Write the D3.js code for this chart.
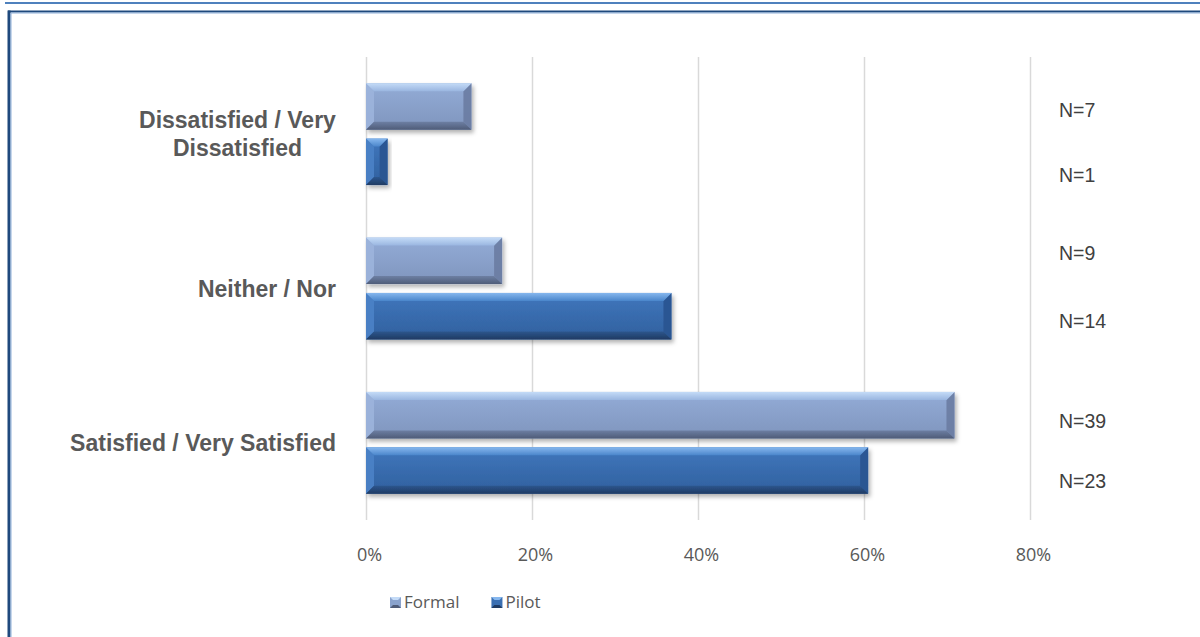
<!DOCTYPE html>
<html>
<head>
<meta charset="utf-8">
<script src="https://cdn.jsdelivr.net/npm/d3@7"></script>
<style>
  html, body { margin: 0; padding: 0; background: #ffffff; }
  svg { display: block; }
</style>
</head>
<body>
<svg id="chart" width="1200" height="637"></svg>
<script>
// ---- data ----
const categories = ["Dissatisfied / Very Dissatisfied", "Neither / Nor", "Satisfied / Very Satisfied"];
const categoryLines = [["Dissatisfied / Very", "Dissatisfied"], ["Neither / Nor"], ["Satisfied / Very Satisfied"]];
const seriesNames = ["Formal", "Pilot"];
const formalPct = [12.7, 16.4, 70.9];
const pilotPct = [2.6, 36.8, 60.5];
const formalN = ["N=7", "N=9", "N=39"];
const pilotN = ["N=1", "N=14", "N=23"];
const xTicks = [0, 20, 40, 60, 80];

// ---- layout ----
const W = 1200, H = 637;
const plot = { left: 366, right: 1030, top: 57, bottom: 520 };
const bevel = 8;
// vertical nudges for the hand-placed N annotations (formal, pilot)
const noteNudge = [[3.5, 13], [-8, 5], [6, 10]];

const svg = d3.select("#chart");
const defs = svg.append("defs");

const x = d3.scaleLinear().domain([0, 80]).range([plot.left, plot.right]);
const y0 = d3.scaleBand().domain(categories).range([plot.top, plot.bottom]).paddingInner(0.34).paddingOuter(0.17);
const y1 = d3.scaleBand().domain(seriesNames).range([0, y0.bandwidth()]).paddingInner(0.16);

// ---- palettes for the bevelled bars ----
const palette = {
  Formal: { body: ["#93acd7", "#7f95bd"], top: ["#c4dbf7", "#9ab6e0"], bottom: ["#6d7fa3", "#4f5c78"], left: "#9cb4dc", right: "#6a7ca2", swatch: "#8aa3cd" },
  Pilot:  { body: ["#4077bd", "#30609e"], top: ["#86b7ee", "#4b86cb"], bottom: ["#2d568d", "#1f3b63"], left: "#4b82c6", right: "#2a5490", swatch: "#3a6fb2" }
};

function vGrad(id, c0, c1) {
  const g = defs.append("linearGradient").attr("id", id).attr("x1", 0).attr("y1", 0).attr("x2", 0).attr("y2", 1);
  g.append("stop").attr("offset", "0%").attr("stop-color", c0);
  g.append("stop").attr("offset", "100%").attr("stop-color", c1);
}
seriesNames.forEach(s => {
  const p = palette[s];
  vGrad("body-" + s, p.body[0], p.body[1]);
  vGrad("top-" + s, p.top[0], p.top[1]);
  vGrad("bot-" + s, p.bottom[0], p.bottom[1]);
});

const shadow = defs.append("filter").attr("id", "shadow").attr("x", "-10%").attr("y", "-20%").attr("width", "130%").attr("height", "160%");
shadow.append("feDropShadow").attr("dx", 2).attr("dy", 3).attr("stdDeviation", 2.2).attr("flood-color", "#000").attr("flood-opacity", 0.3);

// ---- frame ----
svg.append("line").attr("x1", 5).attr("x2", W).attr("y1", 3).attr("y2", 3).attr("stroke", "#4f81bd").attr("stroke-width", 2);
svg.append("line").attr("x1", 8).attr("x2", W).attr("y1", 11.5).attr("y2", 11.5).attr("stroke", "#1f497d").attr("stroke-width", 2);
svg.append("line").attr("x1", 11).attr("x2", W).attr("y1", 13).attr("y2", 13).attr("stroke", "#8fb0da").attr("stroke-width", 1);
svg.append("line").attr("x1", 9).attr("x2", 9).attr("y1", 10.5).attr("y2", H).attr("stroke", "#1f497d").attr("stroke-width", 3);
svg.append("line").attr("x1", 11).attr("x2", 11).attr("y1", 13).attr("y2", H).attr("stroke", "#8fb0da").attr("stroke-width", 1);

// ---- gridlines ----
svg.append("g").selectAll("line").data(xTicks).join("line")
  .attr("x1", d => Math.round(x(d)) + 0.5).attr("x2", d => Math.round(x(d)) + 0.5)
  .attr("y1", plot.top).attr("y2", plot.bottom)
  .attr("stroke", "#d9d9d9").attr("stroke-width", 1.5);

// ---- x axis labels ----
const xAxis = d3.axisBottom(x).tickValues(xTicks).tickFormat(d => d + "%").tickSize(0).tickPadding(0);
const gx = svg.append("g").attr("transform", `translate(0, 561)`).call(xAxis);
gx.select(".domain").remove();
gx.selectAll("text")
  .attr("dy", 0).attr("dx", 3)
  .attr("font-family", "'Liberation Sans Narrow', 'Open Sans', sans-serif")
  .attr("font-size", 18).attr("fill", "#595959");

// ---- bars ----
const rows = [];
categories.forEach((c, i) => {
  rows.push({ cat: c, s: "Formal", v: formalPct[i], note: formalN[i], nudge: noteNudge[i][0] });
  rows.push({ cat: c, s: "Pilot", v: pilotPct[i], note: pilotN[i], nudge: noteNudge[i][1] });
});

const bars = svg.append("g").selectAll("g").data(rows).join("g").attr("filter", "url(#shadow)");
bars.each(function (d) {
  const g = d3.select(this);
  const p = palette[d.s];
  const xa = x(0), xb = x(d.v);
  const ya = y0(d.cat) + y1(d.s), yb = ya + y1.bandwidth();
  const b = Math.min(bevel, (xb - xa) / 2.6);
  g.append("rect").attr("x", xa).attr("y", ya).attr("width", xb - xa).attr("height", yb - ya).attr("fill", `url(#body-${d.s})`);
  const poly = pts => pts.map(q => q.join(",")).join(" ");
  g.append("polygon").attr("points", poly([[xa, ya], [xa + b, ya + b], [xa + b, yb - b], [xa, yb]])).attr("fill", p.left).attr("opacity", 0.9);
  g.append("polygon").attr("points", poly([[xb, ya], [xb - b, ya + b], [xb - b, yb - b], [xb, yb]])).attr("fill", p.right).attr("opacity", 0.9);
  g.append("polygon").attr("points", poly([[xa, ya], [xb, ya], [xb - b, ya + b], [xa + b, ya + b]])).attr("fill", `url(#top-${d.s})`);
  g.append("polygon").attr("points", poly([[xa, yb], [xb, yb], [xb - b, yb - b], [xa + b, yb - b]])).attr("fill", `url(#bot-${d.s})`);
});

// ---- N annotations ----
svg.append("g").selectAll("text").data(rows).join("text")
  .attr("x", 1059)
  .attr("y", d => y0(d.cat) + y1(d.s) + y1.bandwidth() / 2 + d.nudge + 7)
  .attr("font-family", "'Liberation Sans', Arial, sans-serif")
  .attr("font-size", 19.5).attr("fill", "#404040")
  .text(d => d.note);

// ---- category labels ----
const catG = svg.append("g").selectAll("text").data(categories).join("text")
  .attr("font-family", "'Liberation Sans', Arial, sans-serif")
  .attr("font-weight", "bold").attr("font-size", 23).attr("fill", "#595959")
  .attr("text-anchor", "middle");
catG.each(function (c, i) {
  const t = d3.select(this);
  const lines = categoryLines[i];
  const cy = y0(c) + y0.bandwidth() / 2;
  const lh = 28;
  lines.forEach((ln, k) => {
    t.append("tspan").attr("x", 0).attr("y", cy + (k - (lines.length - 1) / 2) * lh + 8).text(ln);
  });
});
// right-align each label block against the category axis
catG.each(function () {
  const bb = this.getBBox();
  d3.select(this).attr("transform", `translate(${336 - bb.width / 2},0)`);
});

// ---- legend ----
const legend = svg.append("g").attr("transform", "translate(390, 597)");
let lx = 0;
seriesNames.forEach(s => {
  const item = legend.append("g").attr("transform", `translate(${lx},0)`);
  const p = palette[s];
  item.append("rect").attr("x", 0).attr("y", 0).attr("width", 11).attr("height", 11).attr("fill", p.swatch);
  item.append("polygon").attr("points", "0,0 11,0 8,3 3,3").attr("fill", p.top[0]);
  item.append("polygon").attr("points", "0,11 11,11 8,8 3,8").attr("fill", p.bottom[1]);
  const t = item.append("text").attr("x", 14).attr("y", 11)
    .attr("font-family", "'Liberation Sans Narrow', 'Open Sans', sans-serif")
    .attr("font-size", 17).attr("fill", "#595959").text(s);
  lx += 14 + t.node().getComputedTextLength() + 32;
});
</script>
</body>
</html>
